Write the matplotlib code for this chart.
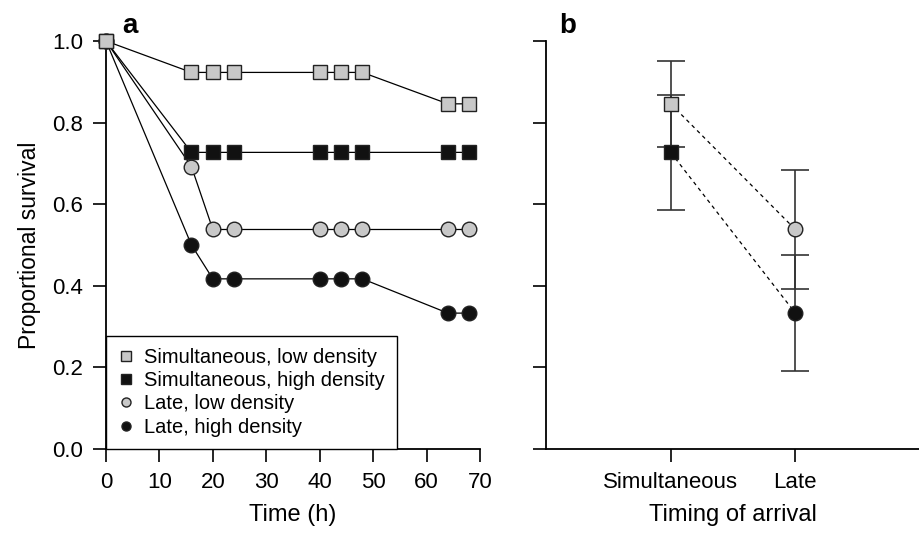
import numpy as np
import matplotlib
matplotlib.use("Agg")
import matplotlib.pyplot as plt
from matplotlib.lines import Line2D

plt.rcParams['font.family'] = ['Liberation Sans', 'DejaVu Sans']

# panel a: survival over time
time_sim = [0, 16, 20, 24, 40, 44, 48, 64, 68]
sim_low = [1.0, 0.923, 0.923, 0.923, 0.923, 0.923, 0.923, 0.846, 0.846]
sim_high = [1.0, 0.727, 0.727, 0.727, 0.727, 0.727, 0.727, 0.727, 0.727]
time_late = [0, 16, 20, 24, 40, 44, 48, 64, 68]
late_low = [1.0, 0.692, 0.538, 0.538, 0.538, 0.538, 0.538, 0.538, 0.538]
late_high = [1.0, 0.5, 0.417, 0.417, 0.417, 0.417, 0.417, 0.333, 0.333]

# panel b: final survival with error bars
arrival = ['Simultaneous', 'Late']
final_low = [0.846, 0.538]
final_high = [0.727, 0.333]
err_low = [0.105, 0.145]
err_high = [0.141, 0.142]

grey = '#c8c8c8'
dark = '#111111'

fig = plt.figure(figsize=(9.2, 5.46), dpi=100)
ax1 = fig.add_axes([0.1152, 0.1777, 0.4065, 0.7472])
ax2 = fig.add_axes([0.5935, 0.1777, 0.4065, 0.7472])

ms = 10.5
kw = dict(color='black', lw=0.9, markeredgecolor='#222222', markeredgewidth=1.0,
          markersize=ms, clip_on=False)
ax1.plot(time_late, late_high, marker='o', markerfacecolor=dark, zorder=3, **kw)
ax1.plot(time_late, late_low, marker='o', markerfacecolor=grey, zorder=4, **kw)
ax1.plot(time_sim, sim_high, marker='s', markerfacecolor=dark, zorder=5, **kw)
ax1.plot(time_sim, sim_low, marker='s', markerfacecolor=grey, zorder=6, **kw)

ax1.set_xlim(0, 70)
ax1.set_ylim(0, 1.0)
ax1.set_xticks(np.arange(0, 71, 10))
ax1.set_yticks(np.arange(0, 1.01, 0.2))
ax1.set_yticklabels(['0.0', '0.2', '0.4', '0.6', '0.8', '1.0'])
ax1.set_xlabel('Time (h)', fontsize=17, labelpad=8)
ax1.set_ylabel('Proportional survival', fontsize=16.5, labelpad=8)

handles = [
    Line2D([], [], ls='none', marker='s', markerfacecolor=grey, markeredgecolor='#222222', markersize=6.5),
    Line2D([], [], ls='none', marker='s', markerfacecolor=dark, markeredgecolor='#222222', markersize=6.5),
    Line2D([], [], ls='none', marker='o', markerfacecolor=grey, markeredgecolor='#222222', markersize=6.5),
    Line2D([], [], ls='none', marker='o', markerfacecolor=dark, markeredgecolor='#222222', markersize=6.5),
]
labels = ['Simultaneous, low density', 'Simultaneous, high density',
          'Late, low density', 'Late, high density']
leg = ax1.legend(handles, labels, loc='lower left', bbox_to_anchor=(0, 0),
                 borderaxespad=0, fontsize=14.5, fancybox=False, framealpha=1,
                 handlelength=0.8, handletextpad=0.5, labelspacing=0.22,
                 borderpad=0.6)
leg.get_frame().set_edgecolor('black')
leg.get_frame().set_linewidth(1.0)

# panel b
xpos = np.arange(1, len(arrival) + 1)
ax2.plot(xpos, final_low, color='black', lw=0.9, ls=(0, (3, 3)), zorder=2)
ax2.plot(xpos, final_high, color='black', lw=0.9, ls=(0, (3, 3)), zorder=2)
ax2.errorbar(xpos, final_high, yerr=err_high, fmt='none', ecolor='#333333',
             elinewidth=1.2, capsize=10, capthick=1.2, zorder=3)
ax2.errorbar(xpos, final_low, yerr=err_low, fmt='none', ecolor='#333333',
             elinewidth=1.2, capsize=10, capthick=1.2, zorder=3)
ax2.plot(xpos[0], final_high[0], ls='none', marker='s', markerfacecolor=dark,
         markeredgecolor='#222222', markersize=ms, zorder=4)
ax2.plot(xpos[0], final_low[0], ls='none', marker='s', markerfacecolor=grey,
         markeredgecolor='#222222', markersize=ms, zorder=4)
ax2.plot(xpos[1], final_high[1], ls='none', marker='o', markerfacecolor=dark,
         markeredgecolor='#222222', markersize=ms, zorder=4)
ax2.plot(xpos[1], final_low[1], ls='none', marker='o', markerfacecolor=grey,
         markeredgecolor='#222222', markersize=ms, zorder=4)

ax2.set_xlim(0, 3)
ax2.set_ylim(0, 1.0)
ax2.set_xticks(xpos)
ax2.set_xticklabels(arrival)
ax2.set_yticks(np.arange(0, 1.01, 0.2))
ax2.set_yticklabels([])
ax2.set_xlabel('Timing of arrival', fontsize=17, labelpad=8)

for ax in (ax1, ax2):
    for s in ('top', 'right'):
        ax.spines[s].set_visible(False)
    for s in ('left', 'bottom'):
        ax.spines[s].set_linewidth(1.3)
    ax.tick_params(direction='out', length=9.5, width=1.2, labelsize=16, pad=7)

fig.text(0.133, 0.952, 'a', fontsize=20, fontweight='bold', va='center')
fig.text(0.608, 0.952, 'b', fontsize=20, fontweight='bold', va='center')

fig.savefig('out.png', dpi=100)
